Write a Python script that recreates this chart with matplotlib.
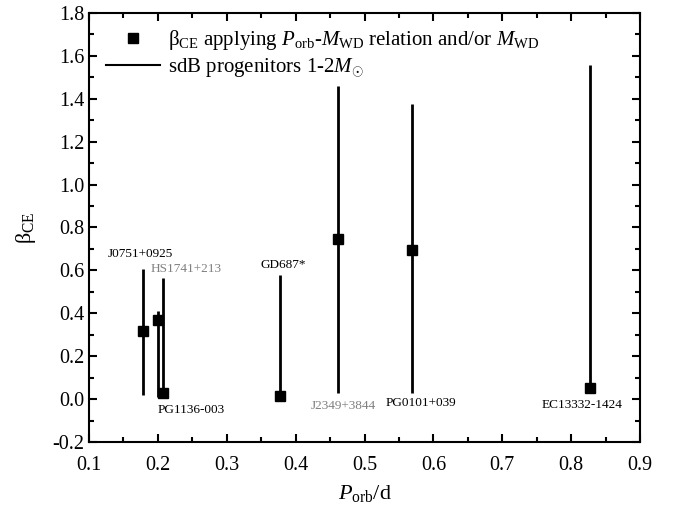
import numpy as np
import matplotlib
matplotlib.use("Agg")
import matplotlib.pyplot as plt
from matplotlib.lines import Line2D

plt.rcParams['font.family'] = ['Liberation Serif', 'DejaVu Serif']
plt.rcParams['mathtext.fontset'] = 'custom'
plt.rcParams['mathtext.rm'] = 'Liberation Serif'
plt.rcParams['mathtext.it'] = 'Liberation Serif:italic'

## beta_CE points (P_orb in days)
p_orb = [0.178, 0.2006, 0.207, 0.378, 0.462, 0.569, 0.828]
beta_ce = [0.318, 0.368, 0.027, 0.015, 0.746, 0.695, 0.053]

## sdB progenitor ranges 1-2 Msun
range_p = [0.178, 0.2006, 0.208, 0.378, 0.462, 0.569, 0.828]
range_lo = [0.02, 0.01, 0.01, 0.015, 0.03, 0.028, 0.05]
range_hi = [0.605, 0.41, 0.566, 0.578, 1.46, 1.374, 1.558]

## object names and where they sit
names = ['J0751+0925', 'HS1741+213', 'PG1136-003', 'GD687*',
         'J2349+3844', 'PG0101+039', 'EC13332-1424']
name_x = [0.174, 0.241, 0.249, 0.382, 0.469, 0.582, 0.816]
name_y = [0.676, 0.606, -0.051, 0.625, -0.03, -0.02, -0.028]
name_col = ['black', 'gray', 'black', 'black', 'gray', 'black', 'black']

fig = plt.figure(figsize=(6.84, 5.16), dpi=100)
ax = fig.add_axes([89/684, 1-442/516, 551/684, 429/516])

ax.vlines(range_p, range_lo, range_hi, color='black', lw=2)
ax.plot(p_orb, beta_ce, 's', color='black', ms=7.5)

for n, x, y, c in zip(names, name_x, name_y, name_col):
    ax.text(x, y, n, ha='center', va='center', fontsize=9.5, color=c)

ax.set_xlim(0.1, 0.9)
ax.set_ylim(-0.2, 1.8)
ax.set_xticks(np.arange(0.1, 0.91, 0.1))
ax.set_yticks(np.arange(-0.2, 1.81, 0.2))
ax.set_xticks(np.arange(0.15, 0.9, 0.1), minor=True)
ax.set_yticks(np.arange(-0.1, 1.8, 0.2), minor=True)
ax.set_xticklabels(['%.1f' % v for v in np.arange(0.1, 0.91, 0.1)])
ax.set_yticklabels(['%.1f' % v if abs(v) > 1e-9 else '0.0' for v in np.arange(-0.2, 1.81, 0.2)])
ax.tick_params(which='both', direction='in', top=True, right=True, labelsize=14.5, width=1.5)
ax.tick_params(which='major', length=6)
ax.tick_params(which='minor', length=3.5)
ax.tick_params(axis='x', pad=10)
for s in ax.spines.values():
    s.set_linewidth(1.5)

ax.set_xlabel(r'$P_{\mathrm{orb}}$/d', fontsize=16, labelpad=6)
ax.set_ylabel(r'$\mathrm{β}_{\mathrm{CE}}$', fontsize=16, labelpad=10)

handles = [Line2D([], [], marker='s', ls='none', color='black', ms=7.5),
           Line2D([], [], color='black', lw=1.5)]
labels = [r'$\mathrm{β}_{\mathrm{CE}}$ applying $P_{\mathrm{orb}}$-$M_{\mathrm{WD}}$ relation and/or $M_{\mathrm{WD}}$',
          r'sdB progenitors 1-2$M_{\odot}$']
ax.legend(handles, labels, loc='upper left', bbox_to_anchor=(0.031, 0.965),
          frameon=False, fontsize=15, handlelength=2.6, handletextpad=0.35,
          borderpad=0, borderaxespad=0, labelspacing=0.2)

fig.savefig('out.png', dpi=100)
